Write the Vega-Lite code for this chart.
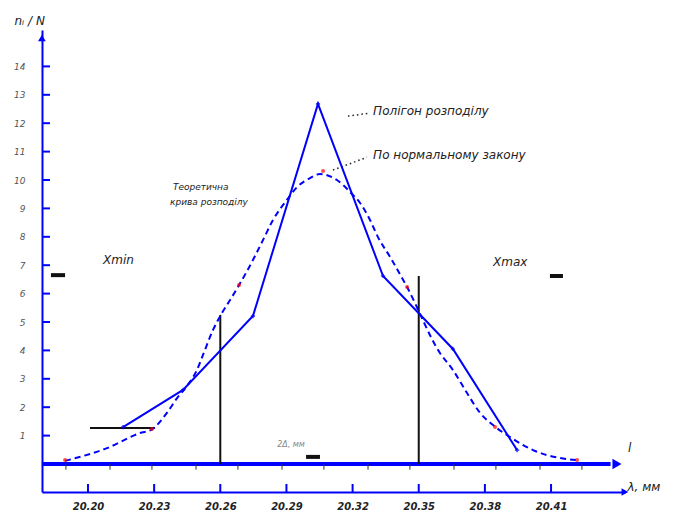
{
  "$schema": "https://vega.github.io/schema/vega-lite/v6.json",
  "autosize": "none",
  "padding": {"left": 42, "top": 30, "right": 52, "bottom": 23},
  "width": 583,
  "height": 462,
  "background": "white",
  "config": {"view": {"stroke": null}, "text": {"font": "DejaVu Sans", "fontStyle": "italic"}},
  "datasets": {
    "normal": [
      {"x": 20.1896, "y": 0.11}, {"x": 20.2086, "y": 0.56}, {"x": 20.2236, "y": 1.09}, {"x": 20.2290, "y": 1.22},
      {"x": 20.2358, "y": 1.80}, {"x": 20.2404, "y": 2.32}, {"x": 20.2449, "y": 2.75}, {"x": 20.2494, "y": 3.31},
      {"x": 20.2522, "y": 3.85}, {"x": 20.2567, "y": 4.72}, {"x": 20.2608, "y": 5.32}, {"x": 20.2653, "y": 5.88},
      {"x": 20.2685, "y": 6.30}, {"x": 20.2748, "y": 7.18}, {"x": 20.2794, "y": 7.89}, {"x": 20.2839, "y": 8.59},
      {"x": 20.2902, "y": 9.30}, {"x": 20.2948, "y": 9.75}, {"x": 20.3007, "y": 10.07}, {"x": 20.3052, "y": 10.21},
      {"x": 20.3129, "y": 10.00}, {"x": 20.3188, "y": 9.58}, {"x": 20.3234, "y": 9.19}, {"x": 20.3279, "y": 8.59},
      {"x": 20.3315, "y": 7.99}, {"x": 20.3370, "y": 7.29}, {"x": 20.3447, "y": 6.23}, {"x": 20.3596, "y": 3.91},
      {"x": 20.3655, "y": 3.31}, {"x": 20.3719, "y": 2.50}, {"x": 20.3778, "y": 1.80}, {"x": 20.3837, "y": 1.37},
      {"x": 20.3914, "y": 0.95}, {"x": 20.4018, "y": 0.49}, {"x": 20.4141, "y": 0.21}, {"x": 20.4218, "y": 0.14}
    ],
    "redpts": [
      {"x": 20.1896, "y": 0.14}, {"x": 20.2290, "y": 1.23}, {"x": 20.2685, "y": 6.30}, {"x": 20.3066, "y": 10.32},
      {"x": 20.3447, "y": 6.23}, {"x": 20.3846, "y": 1.30}, {"x": 20.4218, "y": 0.14}
    ],
    "polygon": [
      {"x": 20.2159, "y": 1.30}, {"x": 20.2431, "y": 2.61}, {"x": 20.2748, "y": 5.21}, {"x": 20.3043, "y": 12.68},
      {"x": 20.3338, "y": 6.62}, {"x": 20.3655, "y": 4.05}, {"x": 20.3946, "y": 0.49}
    ],
    "limits": [
      {"x": 20.26, "y": 0, "y2": 5.25},
      {"x": 20.35, "y": 0, "y2": 6.62}
    ],
    "hsegs": [
      {"x": 20.2009, "x2": 20.2304, "y": 1.27, "w": "thin"},
      {"x": 20.1832, "x2": 20.1896, "y": 6.65, "w": "thick"},
      {"x": 20.4095, "x2": 20.4154, "y": 6.62, "w": "thick"},
      {"x": 20.2989, "x2": 20.3052, "y": 0.25, "w": "thick"}
    ],
    "leaders": [
      {"x": 20.3179, "y": 12.25, "x2": 20.3275, "y2": 12.35},
      {"x": 20.3111, "y": 10.35, "x2": 20.3265, "y2": 10.80}
    ],
    "baseline": [{"x": 20.1791, "x2": 20.4370, "y": 0}],
    "basetick": [
      {"x": 20.190, "y": 0, "y2": -0.2}, {"x": 20.210, "y": 0, "y2": -0.2}, {"x": 20.229, "y": 0, "y2": -0.2},
      {"x": 20.249, "y": 0, "y2": -0.2}, {"x": 20.268, "y": 0, "y2": -0.2}, {"x": 20.288, "y": 0, "y2": -0.2},
      {"x": 20.307, "y": 0, "y2": -0.2}, {"x": 20.327, "y": 0, "y2": -0.2}, {"x": 20.346, "y": 0, "y2": -0.2},
      {"x": 20.366, "y": 0, "y2": -0.2}, {"x": 20.385, "y": 0, "y2": -0.2}, {"x": 20.405, "y": 0, "y2": -0.2},
      {"x": 20.424, "y": 0, "y2": -0.2}
    ],
    "yticks": [
      {"y": 1, "x": 20.17914, "x2": 20.18277}, {"y": 2, "x": 20.17914, "x2": 20.18277}, {"y": 3, "x": 20.17914, "x2": 20.18277},
      {"y": 4, "x": 20.17914, "x2": 20.18277}, {"y": 5, "x": 20.17914, "x2": 20.18277}, {"y": 6, "x": 20.17914, "x2": 20.18277},
      {"y": 7, "x": 20.17914, "x2": 20.18277}, {"y": 8, "x": 20.17914, "x2": 20.18277}, {"y": 9, "x": 20.17914, "x2": 20.18277},
      {"y": 10, "x": 20.17914, "x2": 20.18277}, {"y": 11, "x": 20.17914, "x2": 20.18277}, {"y": 12, "x": 20.17914, "x2": 20.18277},
      {"y": 13, "x": 20.17914, "x2": 20.18277}, {"y": 14, "x": 20.17914, "x2": 20.18277}
    ],
    "xticks": [
      {"x": 20.20, "y": -0.9859, "y2": -0.704}, {"x": 20.23, "y": -0.9859, "y2": -0.704},
      {"x": 20.26, "y": -0.9859, "y2": -0.704}, {"x": 20.29, "y": -0.9859, "y2": -0.704},
      {"x": 20.32, "y": -0.9859, "y2": -0.704}, {"x": 20.35, "y": -0.9859, "y2": -0.704},
      {"x": 20.38, "y": -0.9859, "y2": -0.704}, {"x": 20.41, "y": -0.9859, "y2": -0.704}
    ],
    "arrows": [
      {"x": 20.4399, "y": 0, "shape": "triangle-right", "kind": "base"},
      {"x": 20.1791, "y": 15.0, "shape": "triangle-up", "kind": "axis"},
      {"x": 20.4435, "y": -0.9859, "shape": "triangle-right", "kind": "axis"}
    ],
    "labels_main": [
      {"x": 20.3293, "y": 12.43, "t": "Полігон розподілу"},
      {"x": 20.3293, "y": 10.88, "t": "По нормальному закону"},
      {"x": 20.2068, "y": 7.18, "t": "Xmin"},
      {"x": 20.3837, "y": 7.11, "t": "Xmax"},
      {"x": 20.4449, "y": 0.55, "t": "l"}
    ],
    "labels_small": [
      {"x": 20.2385, "y": 9.75, "t": "Теоретична"},
      {"x": 20.2372, "y": 9.23, "t": "крива розподілу"}
    ],
    "labels_grey": [
      {"x": 20.2858, "y": 0.67, "t": "2Δ, мм"}
    ]
  },
  "layer": [
    {
      "data": {"name": "baseline"},
      "mark": {"type": "rule", "color": "#0000ff", "strokeWidth": 4},
      "encoding": {
        "x": {"field": "x", "type": "quantitative", "scale": {"domain": [20.17914, 20.44354], "nice": false, "zero": false},
          "axis": {"values": [20.20, 20.23, 20.26, 20.29, 20.32, 20.35, 20.38, 20.41], "tickCount": 30, "format": ".2f", "grid": false,
            "domainColor": "#0000ff", "domainWidth": 2, "ticks": false,
            "labelPadding": 9, "labelFont": "DejaVu Sans", "labelFontStyle": "italic", "labelFontWeight": "bold",
            "labelFontSize": 10, "labelColor": "#222", "labelOverlap": false,
            "title": "λ, мм", "titleFont": "DejaVu Sans", "titleFontStyle": "italic", "titleFontWeight": "normal",
            "titleFontSize": 12, "titleColor": "#222", "titleAlign": "left", "titleAnchor": null, "titleX": 585, "titleY": -2, "titleBaseline": "alphabetic"}},
        "x2": {"field": "x2"},
        "y": {"field": "y", "type": "quantitative", "scale": {"domain": [-0.9859, 15.2817], "nice": false, "zero": false},
          "axis": {"values": [1,2,3,4,5,6,7,8,9,10,11,12,13,14], "tickCount": 30, "format": "d", "grid": false, "labelOverlap": false,
            "domainColor": "#0000ff", "domainWidth": 2, "ticks": false,
            "labelPadding": 17, "labelFont": "DejaVu Sans", "labelFontStyle": "italic", "labelFontSize": 9, "labelColor": "#555",
            "title": "nᵢ / N", "titleFont": "DejaVu Sans", "titleFontStyle": "italic", "titleFontWeight": "normal",
            "titleFontSize": 12, "titleColor": "#222", "titleAngle": 0, "titleAlign": "left", "titleAnchor": null,
            "titleX": -28, "titleY": -6, "titleBaseline": "alphabetic"}}
      }
    },
    {
      "data": {"name": "yticks"},
      "mark": {"type": "rule", "color": "#0000ff", "strokeWidth": 2},
      "encoding": {
        "x": {"field": "x", "type": "quantitative", "scale": {"domain": [20.17914, 20.44354], "nice": false, "zero": false}},
        "x2": {"field": "x2"},
        "y": {"field": "y", "type": "quantitative", "scale": {"domain": [-0.9859, 15.2817], "nice": false, "zero": false}}
      }
    },
    {
      "data": {"name": "xticks"},
      "mark": {"type": "rule", "color": "#0000ff", "strokeWidth": 2},
      "encoding": {
        "x": {"field": "x", "type": "quantitative", "scale": {"domain": [20.17914, 20.44354], "nice": false, "zero": false}},
        "y": {"field": "y", "type": "quantitative", "scale": {"domain": [-0.9859, 15.2817], "nice": false, "zero": false}},
        "y2": {"field": "y2"}
      }
    },
    {
      "data": {"name": "basetick"},
      "mark": {"type": "rule", "color": "#333", "strokeWidth": 1},
      "encoding": {
        "x": {"field": "x", "type": "quantitative", "scale": {"domain": [20.17914, 20.44354], "nice": false, "zero": false}},
        "y": {"field": "y", "type": "quantitative", "scale": {"domain": [-0.9859, 15.2817], "nice": false, "zero": false}},
        "y2": {"field": "y2"}
      }
    },
    {
      "data": {"name": "limits"},
      "mark": {"type": "rule", "color": "#111", "strokeWidth": 2},
      "encoding": {
        "x": {"field": "x", "type": "quantitative", "scale": {"domain": [20.17914, 20.44354], "nice": false, "zero": false}},
        "y": {"field": "y", "type": "quantitative", "scale": {"domain": [-0.9859, 15.2817], "nice": false, "zero": false}},
        "y2": {"field": "y2"}
      }
    },
    {
      "data": {"name": "hsegs"},
      "mark": {"type": "rule", "color": "#111"},
      "encoding": {
        "x": {"field": "x", "type": "quantitative", "scale": {"domain": [20.17914, 20.44354], "nice": false, "zero": false}},
        "x2": {"field": "x2"},
        "y": {"field": "y", "type": "quantitative", "scale": {"domain": [-0.9859, 15.2817], "nice": false, "zero": false}},
        "strokeWidth": {"field": "w", "type": "nominal", "scale": {"domain": ["thin", "thick"], "range": [2, 4]}, "legend": null}
      }
    },
    {
      "data": {"name": "leaders"},
      "mark": {"type": "rule", "color": "#222", "strokeWidth": 1.5, "strokeDash": [1.5, 3]},
      "encoding": {
        "x": {"field": "x", "type": "quantitative", "scale": {"domain": [20.17914, 20.44354], "nice": false, "zero": false}},
        "x2": {"field": "x2"},
        "y": {"field": "y", "type": "quantitative", "scale": {"domain": [-0.9859, 15.2817], "nice": false, "zero": false}},
        "y2": {"field": "y2"}
      }
    },
    {
      "data": {"name": "normal"},
      "mark": {"type": "line", "color": "#0000ff", "strokeWidth": 2, "strokeDash": [6, 4], "interpolate": "monotone"},
      "encoding": {
        "x": {"field": "x", "type": "quantitative", "scale": {"domain": [20.17914, 20.44354], "nice": false, "zero": false}},
        "y": {"field": "y", "type": "quantitative", "scale": {"domain": [-0.9859, 15.2817], "nice": false, "zero": false}}
      }
    },
    {
      "data": {"name": "polygon"},
      "mark": {"type": "line", "color": "#0000ff", "strokeWidth": 2},
      "encoding": {
        "x": {"field": "x", "type": "quantitative", "scale": {"domain": [20.17914, 20.44354], "nice": false, "zero": false}},
        "y": {"field": "y", "type": "quantitative", "scale": {"domain": [-0.9859, 15.2817], "nice": false, "zero": false}}
      }
    },
    {
      "data": {"name": "polygon"},
      "mark": {"type": "point", "shape": "cross", "color": "#0000ff", "filled": true, "size": 18},
      "encoding": {
        "x": {"field": "x", "type": "quantitative", "scale": {"domain": [20.17914, 20.44354], "nice": false, "zero": false}},
        "y": {"field": "y", "type": "quantitative", "scale": {"domain": [-0.9859, 15.2817], "nice": false, "zero": false}}
      }
    },
    {
      "data": {"name": "redpts"},
      "mark": {"type": "point", "shape": "circle", "color": "#ff0000", "filled": true, "size": 16},
      "encoding": {
        "x": {"field": "x", "type": "quantitative", "scale": {"domain": [20.17914, 20.44354], "nice": false, "zero": false}},
        "y": {"field": "y", "type": "quantitative", "scale": {"domain": [-0.9859, 15.2817], "nice": false, "zero": false}}
      }
    },
    {
      "data": {"name": "arrows"},
      "mark": {"type": "point", "filled": true, "color": "#0000ff", "opacity": 1},
      "encoding": {
        "x": {"field": "x", "type": "quantitative", "scale": {"domain": [20.17914, 20.44354], "nice": false, "zero": false}},
        "y": {"field": "y", "type": "quantitative", "scale": {"domain": [-0.9859, 15.2817], "nice": false, "zero": false}},
        "shape": {"field": "shape", "type": "nominal", "scale": null},
        "size": {"field": "kind", "type": "nominal", "scale": {"domain": ["base", "axis"], "range": [110, 60]}, "legend": null}
      }
    },
    {
      "data": {"name": "labels_main"},
      "mark": {"type": "text", "align": "left", "baseline": "middle", "fontStyle": "italic", "fontSize": 12, "color": "#222"},
      "encoding": {
        "x": {"field": "x", "type": "quantitative", "scale": {"domain": [20.17914, 20.44354], "nice": false, "zero": false}},
        "y": {"field": "y", "type": "quantitative", "scale": {"domain": [-0.9859, 15.2817], "nice": false, "zero": false}},
        "text": {"field": "t"}
      }
    },
    {
      "data": {"name": "labels_small"},
      "mark": {"type": "text", "align": "left", "baseline": "middle", "fontStyle": "italic", "fontSize": 9, "color": "#222"},
      "encoding": {
        "x": {"field": "x", "type": "quantitative", "scale": {"domain": [20.17914, 20.44354], "nice": false, "zero": false}},
        "y": {"field": "y", "type": "quantitative", "scale": {"domain": [-0.9859, 15.2817], "nice": false, "zero": false}},
        "text": {"field": "t"}
      }
    },
    {
      "data": {"name": "labels_grey"},
      "mark": {"type": "text", "align": "left", "baseline": "middle", "fontStyle": "italic", "fontSize": 8, "color": "#888"},
      "encoding": {
        "x": {"field": "x", "type": "quantitative", "scale": {"domain": [20.17914, 20.44354], "nice": false, "zero": false}},
        "y": {"field": "y", "type": "quantitative", "scale": {"domain": [-0.9859, 15.2817], "nice": false, "zero": false}},
        "text": {"field": "t"}
      }
    }
  ]
}
